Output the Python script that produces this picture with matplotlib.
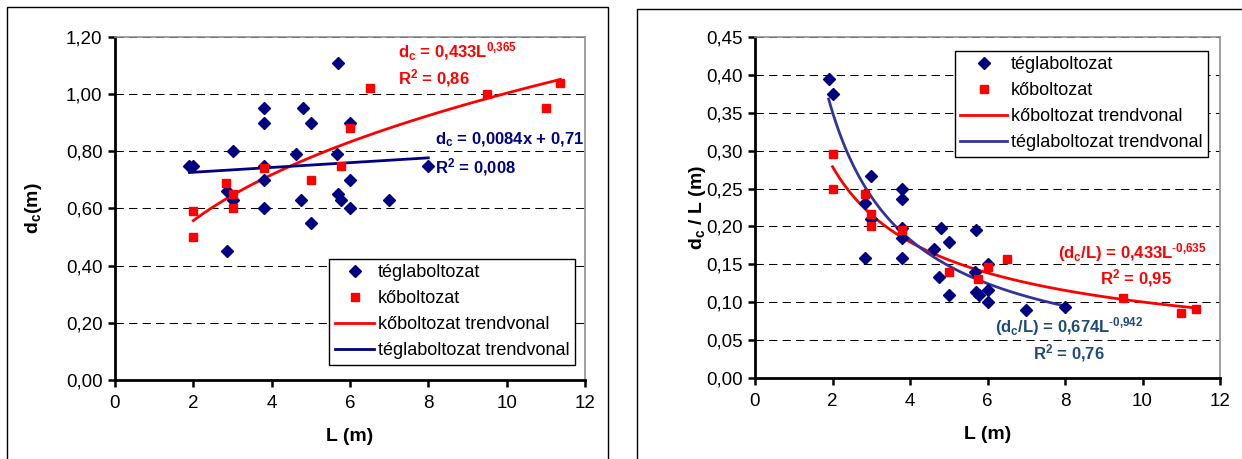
import numpy as np
import matplotlib
matplotlib.use("Agg")
import matplotlib.pyplot as plt
from matplotlib.patches import Rectangle
from matplotlib.ticker import FuncFormatter, MultipleLocator

plt.rcParams['font.family'] = ['Liberation Sans', 'DejaVu Sans']
plt.rcParams['mathtext.fontset'] = 'custom'
plt.rcParams['mathtext.rm'] = 'Liberation Sans'
plt.rcParams['mathtext.it'] = 'Liberation Sans:italic'
plt.rcParams['mathtext.bf'] = 'Liberation Sans:bold'

# téglaboltozat (brick vaults)
tegla_L = [1.9, 2.0, 2.85, 2.85, 3.0, 3.0, 3.8, 3.8, 3.8, 3.8, 3.8, 4.63, 4.75,
           4.8, 5.0, 5.0, 5.7, 5.67, 5.7, 5.78, 6.0, 6.0, 6.0, 7.0, 8.0]
tegla_dc = [0.75, 0.75, 0.66, 0.45, 0.80, 0.63, 0.95, 0.90, 0.75, 0.70, 0.60, 0.79, 0.63,
            0.95, 0.90, 0.55, 1.11, 0.79, 0.65, 0.63, 0.90, 0.70, 0.60, 0.63, 0.75]

# kőboltozat (stone vaults)
ko_L = [2.0, 2.0, 2.84, 3.0, 3.0, 3.8, 5.0, 5.76, 6.0, 6.5, 9.5, 11.0, 11.37]
ko_dc = [0.59, 0.50, 0.69, 0.65, 0.60, 0.74, 0.70, 0.75, 0.88, 1.02, 1.00, 0.95, 1.04]

# trendline coefficients as printed on the chart
ko_pow = (0.433, 0.365)
tegla_lin = (0.0084, 0.71)
ko_ratio_pow = (0.433, -0.635)
tegla_ratio_pow = (0.674, -0.942)

NAVY = "#000080"
RED = "#FF0000"
RATIO_BLUE = "#333399"
TEXT_BLUE = "#1F4A7E"

TICK_FS = 13.5
LABEL_FS = 14
LEGEND_FS = 13
NOTE_FS = 12


def comma(v, pos=None):
    return f"{v:.2f}".replace('.', ',')


def style_axes(ax, ymax, ystep):
    ax.set_xlim(0, 12)
    ax.set_ylim(0, ymax)
    ax.xaxis.set_major_locator(MultipleLocator(2))
    ax.yaxis.set_major_locator(MultipleLocator(ystep))
    ax.yaxis.set_major_formatter(FuncFormatter(comma))
    for y in np.arange(ystep, ymax + ystep / 2, ystep):
        ax.axhline(y, color='black', lw=0.75, ls=(0, (8, 5)), zorder=0.5)
    ax.spines['left'].set_linewidth(2)
    ax.spines['bottom'].set_linewidth(2)
    ax.spines['top'].set_color('#909090')
    ax.spines['right'].set_color('#909090')
    ax.spines['top'].set_linewidth(1.2)
    ax.spines['right'].set_linewidth(1.2)
    ax.tick_params(axis='both', direction='out', length=5, width=1.8,
                   labelsize=TICK_FS, color='black')
    ax.tick_params(axis='x', pad=6)
    ax.tick_params(axis='y', pad=4)


def add_legend(ax, loc, anchor, handlelength):
    leg = ax.legend(loc=loc, bbox_to_anchor=anchor, fontsize=LEGEND_FS,
                    frameon=True, fancybox=False, edgecolor='black', framealpha=1,
                    handlelength=handlelength, labelspacing=0.5, borderpad=0.3,
                    handletextpad=0.2, borderaxespad=0)
    leg.get_frame().set_linewidth(1)
    return leg


fig = plt.figure(figsize=(12.42, 4.59), dpi=100)

# chart area frames
fig.add_artist(Rectangle((7 / 1242, -0.1), 601 / 1242, 1.1 - 7 / 459,
                         transform=fig.transFigure, fill=False, ec='black', lw=1))
fig.add_artist(Rectangle((637 / 1242, -0.1), 0.6, 1.1 - 9 / 459,
                         transform=fig.transFigure, fill=False, ec='black', lw=1))

# left: d_c vs L
ax1 = fig.add_axes([115 / 1242, 1 - 380 / 459, 470 / 1242, 343 / 459])
style_axes(ax1, 1.2, 0.2)
ax1.plot(tegla_L, tegla_dc, ls='none', marker='D', ms=6, color=NAVY,
         label='téglaboltozat', zorder=3)
ax1.plot(ko_L, ko_dc, ls='none', marker='s', ms=6, color=RED,
         label='kőboltozat', zorder=3)
xk = np.linspace(min(ko_L), max(ko_L), 100)
ax1.plot(xk, ko_pow[0] * xk ** ko_pow[1], color=RED, lw=2,
         label='kőboltozat trendvonal', zorder=2)
xt = np.array([min(tegla_L), max(tegla_L)])
ax1.plot(xt, tegla_lin[0] * xt + tegla_lin[1], color=NAVY, lw=2,
         label='téglaboltozat trendvonal', zorder=2)

ax1.set_xlabel('L (m)', fontsize=LABEL_FS, fontweight='bold')
ax1.xaxis.set_label_coords(0.5, -0.14)
ax1.set_ylabel(r'$\mathbf{d_c}$(m)', fontsize=LABEL_FS, fontweight='bold')
ax1.yaxis.set_label_coords(-0.15, 0.5)

ax1.text(7.23, 1.147, r'$\mathbf{d_c}$ = 0,433L$^{\mathbf{0{,}365}}$', color=RED,
         fontsize=NOTE_FS, fontweight='bold', va='center')
ax1.text(7.23, 1.057, r'R$^{\mathbf{2}}$ = 0,86', color=RED,
         fontsize=NOTE_FS, fontweight='bold', va='center')
ax1.text(8.17, 0.840, r'$\mathbf{d_c}$ = 0,0084x + 0,71', color=NAVY,
         fontsize=NOTE_FS, fontweight='bold', va='center')
ax1.text(8.17, 0.745, r'R$^{\mathbf{2}}$ = 0,008', color=NAVY,
         fontsize=NOTE_FS, fontweight='bold', va='center')

add_legend(ax1, 'lower right', (0.979, 0.044), 2.2)

# right: d_c / L vs L
ax2 = fig.add_axes([755 / 1242, 1 - 378 / 459, 465 / 1242, 341 / 459])
style_axes(ax2, 0.45, 0.05)
tegla_ratio = np.array(tegla_dc) / np.array(tegla_L)
ko_ratio = np.array(ko_dc) / np.array(ko_L)
ax2.plot(tegla_L, tegla_ratio, ls='none', marker='D', ms=6, color=NAVY,
         label='téglaboltozat', zorder=3)
ax2.plot(ko_L, ko_ratio, ls='none', marker='s', ms=6, color=RED,
         label='kőboltozat', zorder=3)
ax2.plot(xk, ko_ratio_pow[0] * xk ** ko_ratio_pow[1], color=RED, lw=2,
         label='kőboltozat trendvonal', zorder=2)
xt2 = np.linspace(min(tegla_L), max(tegla_L), 100)
ax2.plot(xt2, tegla_ratio_pow[0] * xt2 ** tegla_ratio_pow[1], color=RATIO_BLUE, lw=2,
         label='téglaboltozat trendvonal', zorder=2)

ax2.set_xlabel('L (m)', fontsize=LABEL_FS, fontweight='bold')
ax2.xaxis.set_label_coords(0.5, -0.14)
ax2.set_ylabel(r'$\mathbf{d_c}$ / L (m)', fontsize=LABEL_FS, fontweight='bold')
ax2.yaxis.set_label_coords(-0.10, 0.5)

ax2.text(11.66, 0.166, r'($\mathbf{d_c}$/L) = 0,433L$^{\text{-}\mathbf{0{,}635}}$', color=RED,
         fontsize=NOTE_FS, fontweight='bold', va='center', ha='right')
ax2.text(8.9, 0.132, r'R$^{\mathbf{2}}$ = 0,95', color=RED,
         fontsize=NOTE_FS, fontweight='bold', va='center')
ax2.text(6.19, 0.0673, r'($\mathbf{d_c}$/L) = 0,674L$^{\text{-}\mathbf{0{,}942}}$', color=TEXT_BLUE,
         fontsize=NOTE_FS, fontweight='bold', va='center')
ax2.text(7.17, 0.033, r'R$^{\mathbf{2}}$ = 0,76', color=TEXT_BLUE,
         fontsize=NOTE_FS, fontweight='bold', va='center')

add_legend(ax2, 'upper right', (0.974, 0.959), 2.6)

fig.savefig('out.png', dpi=100)
